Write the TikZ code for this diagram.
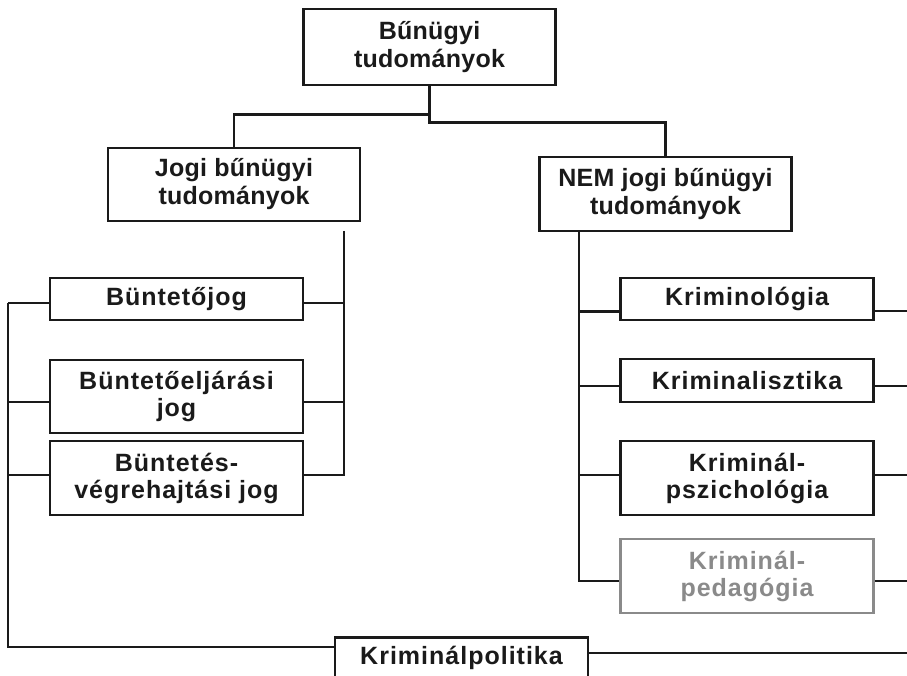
\documentclass[tikz,border=0pt]{standalone}
\usepackage{fontspec}
\setmainfont{Liberation Sans}
\newfontfamily\lsfont[LetterSpace=4]{Liberation Sans}
\newfontfamily\topfont[LetterSpace=1]{Liberation Sans}
\usetikzlibrary{calc}
\definecolor{ink}{HTML}{1A1A1A}
\definecolor{greyink}{HTML}{8A8A8A}
\tikzset{
  conn/.style={draw=ink, line width=2.4pt},
  topbox/.style={draw=ink, line width=2.8pt, minimum width=252pt, align=center, inner sep=0pt, text=ink,
    font=\topfont\bfseries\fontsize{25}{28}\selectfont},
  subbox/.style={draw=ink, line width=2.8pt, minimum width=253pt, align=center, inner sep=0pt, text=ink,
    font=\lsfont\bfseries\fontsize{25}{27}\selectfont},
  greybox/.style={subbox, draw=greyink, text=greyink}
}
\begin{document}
\begin{tikzpicture}[x=1pt,y=1pt]
\useasboundingbox (0,0) rectangle (907,-676);
\clip (0,0) rectangle (907,-676);
\fill[white] (0,0) rectangle (907,-676);

% top level
\node[topbox, minimum height=76pt] (top) at (429.5,-47) {Bűnügyi\\tudományok};
\node[topbox, minimum height=73pt] (jogi) at (234,-184.5) {Jogi bűnügyi\\tudományok};
\node[topbox, minimum height=74pt] (nem) at (665.5,-194) {NEM jogi bűnügyi\\tudományok};

\draw[conn] (top.south) -- ++(0,-36) -| (nem.north);
\draw[conn] ($(top.south)+(0,-28)$) -| (jogi.north);

% legal branch
\node[subbox, minimum height=42pt] (bj) at (176.5,-299) {Büntetőjog};
\node[subbox, minimum height=73pt] (bej) at (176.5,-396.5) {Büntetőeljárási\\jog};
\node[subbox, minimum height=74pt] (bvj) at (176.5,-478) {Büntetés-\\végrehajtási jog};

\coordinate (jv) at (344,-231);
\coordinate (lv) at (8,-303);
\draw[conn] (jv) |- ([yshift=3pt]bvj.east);
\draw[conn] ([yshift=-4pt]bj.east) -- ([yshift=-4pt]bj.east -| jv);
\draw[conn] ([yshift=-5.5pt]bej.east) -- ([yshift=-5.5pt]bej.east -| jv);
\draw[conn] ([yshift=-4pt]bj.west) -- ([yshift=-4pt]bj.west -| lv);
\draw[conn] ([yshift=-5.5pt]bej.west) -- ([yshift=-5.5pt]bej.west -| lv);
\draw[conn] ([yshift=3pt]bvj.west) -- ([yshift=3pt]bvj.west -| lv);

% non-legal branch
\node[subbox, minimum height=42pt] (krim) at (747,-299) {Kriminológia};
\node[subbox, minimum height=43pt] (kl) at (747,-380.5) {Kriminalisztika};
\node[subbox, minimum height=74pt] (kpsz) at (747,-478) {Kriminál-\\pszichológia};
\node[greybox, minimum height=74pt] (kped) at (747,-576) {Kriminál-\\pedagógia};

\coordinate (nv) at (579,-231);
\coordinate (re) at (907,0);
\draw[conn] (nv) |- ([yshift=-5pt]kped.west);
\draw[conn] ([yshift=-12.5pt]krim.west) -- ([yshift=-12.5pt]krim.west -| nv);
\draw[conn] ([yshift=-5.5pt]kl.west) -- ([yshift=-5.5pt]kl.west -| nv);
\draw[conn] ([yshift=3pt]kpsz.west) -- ([yshift=3pt]kpsz.west -| nv);
\draw[conn] ([yshift=-12pt]krim.east) -- ([yshift=-12pt]krim.east -| re);
\draw[conn] ([yshift=-5.5pt]kl.east) -- ([yshift=-5.5pt]kl.east -| re);
\draw[conn] ([yshift=3pt]kpsz.east) -- ([yshift=3pt]kpsz.east -| re);
\draw[conn] ([yshift=-5pt]kped.east) -- ([yshift=-5pt]kped.east -| re);

% bottom
\node[subbox, anchor=north, inner ysep=9pt, text depth=40pt] (kpol) at (461.5,-636) {Kriminálpolitika};
\draw[conn] (lv) |- ([yshift=-11pt]kpol.north west);
\draw[conn] ([yshift=-17pt]kpol.north east) -- ([yshift=-17pt]kpol.north east -| re);
\end{tikzpicture}
\end{document}
